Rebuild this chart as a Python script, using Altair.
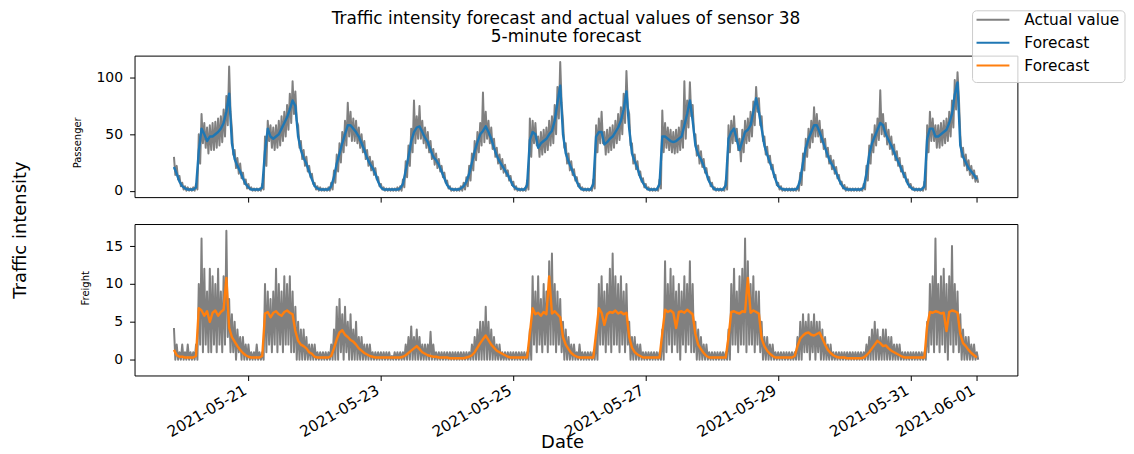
import altair as alt
import pandas as pd

FONT = "DejaVu Sans"

# ---------------- data (hourly, starting 2021-05-19 21:00) ----------------
# Passenger forecast
PAS_FC = (
    [21, 15, 8]
    + [4, 2, 1, 1, 1, 3, 35, 55, 50, 44, 48, 48, 50, 52, 55, 60, 70, 86, 42, 28, 22, 17, 11, 6]      # 05-20
    + [3, 1, 1, 1, 1, 3, 35, 55, 48, 46, 48, 50, 55, 60, 65, 72, 80, 75, 48, 36, 29, 24, 17, 10]     # 05-21
    + [4, 2, 1, 1, 1, 1, 4, 12, 24, 33, 42, 50, 58, 58, 55, 52, 48, 42, 36, 29, 24, 20, 15, 8]       # 05-22
    + [3, 1, 1, 1, 1, 1, 1, 2, 6, 18, 30, 44, 52, 56, 57, 52, 47, 43, 36, 30, 27, 23, 17, 11]        # 05-23
    + [5, 2, 1, 1, 1, 2, 4, 8, 15, 25, 35, 43, 50, 53, 57, 52, 46, 38, 31, 26, 22, 18, 14, 9]        # 05-24
    + [4, 2, 1, 1, 1, 5, 45, 52, 50, 38, 42, 44, 46, 50, 53, 62, 78, 93, 50, 33, 26, 20, 14, 8]      # 05-25
    + [3, 1, 1, 1, 1, 6, 48, 52, 52, 41, 43, 46, 48, 52, 56, 62, 72, 88, 55, 33, 26, 20, 12, 7]      # 05-26
    + [3, 1, 1, 1, 1, 6, 48, 48, 46, 44, 43, 44, 46, 48, 58, 68, 80, 62, 40, 32, 28, 22, 15, 8]      # 05-27
    + [4, 1, 1, 1, 1, 5, 46, 52, 55, 45, 36, 44, 52, 54, 58, 70, 82, 70, 55, 40, 32, 25, 18, 10]     # 05-28
    + [4, 2, 1, 1, 1, 1, 1, 2, 10, 25, 38, 46, 52, 58, 58, 52, 45, 38, 31, 25, 21, 16, 10, 5]        # 05-29
    + [2, 1, 1, 1, 1, 1, 1, 3, 15, 32, 42, 48, 54, 60, 58, 50, 45, 40, 34, 28, 23, 17, 12, 6]        # 05-30
    + [3, 1, 1, 1, 1, 4, 46, 55, 55, 48, 48, 50, 52, 54, 60, 68, 85, 96, 40, 30, 25, 20, 17, 14]     # 05-31
    + [10]                                                                                          # 06-01
)
# Passenger actual: upper reading (on the hour) and lower reading (half past)
PAS_HI = (
    [30, 22, 13]
    + [7, 4, 3, 2, 3, 6, 50, 68, 60, 56, 58, 60, 61, 64, 66, 72, 84, 110, 55, 36, 29, 24, 16, 10]
    + [6, 3, 2, 2, 2, 6, 48, 62, 58, 56, 58, 62, 66, 70, 76, 86, 97, 88, 58, 44, 36, 30, 22, 15]
    + [7, 4, 3, 2, 2, 3, 7, 18, 32, 42, 52, 62, 78, 70, 64, 62, 56, 50, 44, 36, 30, 26, 20, 12]
    + [6, 3, 2, 2, 2, 2, 3, 4, 10, 26, 40, 55, 80, 66, 75, 62, 56, 52, 44, 37, 33, 28, 22, 16]
    + [9, 4, 2, 2, 2, 4, 7, 12, 22, 33, 44, 52, 60, 87, 70, 62, 56, 46, 38, 32, 28, 23, 18, 13]
    + [8, 4, 2, 2, 2, 9, 64, 62, 60, 48, 52, 54, 56, 62, 66, 76, 92, 114, 62, 42, 33, 26, 19, 12]
    + [6, 3, 2, 2, 2, 10, 58, 64, 70, 52, 54, 56, 58, 62, 68, 74, 86, 106, 68, 42, 32, 26, 17, 11]
    + [6, 3, 2, 2, 2, 10, 71, 60, 56, 54, 52, 54, 56, 62, 97, 80, 96, 76, 50, 40, 35, 28, 20, 12]
    + [7, 3, 2, 2, 2, 9, 58, 62, 66, 55, 46, 54, 62, 64, 70, 79, 92, 82, 66, 48, 39, 31, 23, 14]
    + [7, 4, 2, 2, 2, 2, 2, 4, 16, 33, 46, 55, 62, 74, 68, 62, 54, 46, 38, 31, 27, 21, 14, 8]
    + [5, 3, 2, 2, 2, 2, 2, 6, 22, 40, 50, 58, 64, 89, 68, 60, 54, 48, 41, 35, 29, 22, 16, 10]
    + [6, 3, 2, 2, 2, 8, 58, 70, 64, 58, 58, 60, 62, 64, 70, 80, 98, 105, 50, 38, 32, 27, 22, 18]
    + [13]
)
PAS_LO = (
    [14, 10, 4]
    + [1, 0, 0, 0, 0, 1, 24, 42, 38, 33, 36, 36, 38, 40, 43, 48, 58, 70, 32, 20, 15, 11, 6, 2]
    + [1, 0, 0, 0, 0, 1, 22, 44, 38, 36, 38, 40, 44, 48, 54, 60, 68, 62, 38, 28, 22, 17, 12, 6]
    + [1, 0, 0, 0, 0, 0, 1, 7, 17, 25, 34, 40, 48, 44, 44, 42, 38, 34, 28, 22, 18, 14, 10, 4]
    + [1, 0, 0, 0, 0, 0, 0, 0, 3, 12, 22, 34, 42, 46, 46, 42, 38, 34, 28, 23, 20, 17, 12, 7]
    + [2, 0, 0, 0, 0, 0, 1, 4, 9, 18, 27, 34, 40, 43, 46, 42, 37, 30, 24, 19, 16, 13, 9, 5]
    + [1, 0, 0, 0, 0, 1, 30, 42, 40, 30, 32, 34, 36, 40, 42, 50, 64, 78, 38, 24, 18, 14, 9, 4]
    + [1, 0, 0, 0, 0, 2, 34, 42, 42, 32, 34, 36, 38, 42, 45, 50, 60, 74, 40, 24, 19, 14, 8, 3]
    + [1, 0, 0, 0, 0, 2, 34, 38, 36, 34, 33, 34, 36, 38, 46, 56, 66, 50, 31, 24, 21, 16, 10, 4]
    + [1, 0, 0, 0, 0, 1, 34, 42, 44, 36, 26, 34, 42, 44, 48, 58, 70, 58, 44, 32, 25, 19, 12, 5]
    + [1, 0, 0, 0, 0, 0, 0, 0, 5, 18, 30, 38, 43, 48, 48, 43, 37, 30, 24, 19, 15, 11, 6, 2]
    + [0, 0, 0, 0, 0, 0, 0, 1, 9, 24, 34, 40, 45, 50, 48, 41, 37, 32, 27, 22, 17, 12, 8, 3]
    + [1, 0, 0, 0, 0, 1, 34, 44, 44, 38, 38, 40, 42, 44, 48, 56, 72, 82, 30, 22, 18, 14, 11, 8]
    + [7]
)
# Freight forecast
FRT_FC = (
    [1.3, 0.6, 0.4]
    + [0.4, 0.3, 0.3, 0.3, 0.3, 0.5, 6.8, 6.5, 5.8, 6.4, 5.0, 6.2, 6.5, 5.8, 6.3, 6.6, 10.8, 4.2, 3.0, 2.4, 1.8, 1.3, 0.9, 0.6]
    + [0.4, 0.3, 0.3, 0.3, 0.3, 0.5, 6.1, 6.3, 5.6, 6.2, 6.4, 6.0, 5.8, 6.3, 6.5, 6.2, 6.0, 3.8, 2.5, 2.0, 1.8, 1.5, 1.0, 0.8]
    + [0.4, 0.3, 0.3, 0.3, 0.3, 0.3, 0.5, 1.5, 2.7, 3.6, 3.9, 3.3, 3.0, 2.6, 2.4, 2.0, 1.5, 1.2, 0.9, 0.7, 0.5, 0.4, 0.3, 0.3]
    + [0.3, 0.3, 0.3, 0.3, 0.3, 0.3, 0.3, 0.3, 0.4, 0.6, 0.9, 1.2, 1.5, 1.8, 1.4, 1.0, 0.8, 0.6, 0.5, 0.4, 0.4, 0.3, 0.3, 0.3]
    + [0.3, 0.2, 0.2, 0.2, 0.2, 0.2, 0.2, 0.3, 0.4, 0.6, 1.0, 1.6, 2.2, 2.7, 3.2, 2.6, 2.0, 1.6, 1.2, 1.0, 0.8, 0.6, 0.4, 0.3]
    + [0.3, 0.3, 0.3, 0.3, 0.3, 0.3, 3.5, 6.8, 6.0, 6.2, 5.8, 6.3, 6.0, 11.0, 6.1, 6.4, 6.0, 5.6, 3.0, 2.0, 1.4, 0.9, 0.6, 0.4]
    + [0.3, 0.3, 0.3, 0.3, 0.3, 0.3, 3.5, 6.8, 6.2, 4.6, 6.0, 6.3, 6.2, 6.5, 6.1, 6.3, 6.0, 6.2, 3.0, 1.6, 1.0, 0.7, 0.5, 0.3]
    + [0.3, 0.3, 0.3, 0.3, 0.3, 0.3, 3.5, 6.6, 6.3, 6.5, 6.2, 4.2, 6.3, 6.4, 6.2, 6.6, 6.3, 6.0, 3.4, 2.0, 1.4, 0.9, 0.5, 0.3]
    + [0.3, 0.3, 0.3, 0.3, 0.3, 0.3, 3.0, 6.3, 6.4, 6.2, 6.1, 6.4, 6.3, 10.8, 6.2, 6.5, 6.3, 6.1, 2.8, 1.8, 1.2, 0.8, 0.5, 0.3]
    + [0.3, 0.3, 0.3, 0.3, 0.3, 0.3, 0.5, 1.8, 2.8, 3.2, 3.5, 3.6, 3.3, 3.2, 3.4, 3.6, 2.8, 2.0, 1.3, 0.9, 0.6, 0.4, 0.3, 0.3]
    + [0.3, 0.2, 0.2, 0.2, 0.2, 0.2, 0.2, 0.3, 0.6, 1.0, 1.5, 2.0, 2.5, 2.2, 1.8, 1.9, 1.5, 1.2, 1.0, 0.8, 0.6, 0.4, 0.3, 0.3]
    + [0.3, 0.3, 0.3, 0.3, 0.3, 0.3, 4.5, 6.3, 6.2, 6.4, 6.3, 6.1, 6.2, 3.8, 6.3, 6.5, 6.4, 6.2, 3.4, 2.2, 1.8, 1.3, 0.9, 0.6]
    + [0.3]
)
FRT_HI = (
    [4.2, 2, 1]
    + [2, 1, 2, 1, 1, 2, 10, 16, 12, 9, 12, 11, 10, 12, 9, 11, 17, 8, 6, 5, 4, 3, 3, 2]
    + [2, 1, 1, 2, 1, 1, 10, 9, 8, 9, 12, 10, 9, 11, 10, 11, 9, 7, 5, 4, 4, 3, 2, 2]
    + [2, 1, 1, 1, 1, 1, 2, 4, 7, 8, 6, 7, 5, 6, 4, 5, 3, 3, 2, 2, 2, 1, 1, 1]
    + [1, 1, 1, 1, 0.5, 1, 1, 1, 1, 2, 3, 4.4, 3, 4, 3, 2, 2, 2, 3.7, 2, 1, 1, 1, 1]
    + [1, 1, 1, 1, 1, 1, 1, 1, 1, 2, 3, 4, 5, 5, 7, 5, 4, 3, 2, 2, 1, 1, 1, 1]
    + [1, 1, 1, 1, 1, 1, 4, 11, 9, 11, 8, 10, 9, 13, 14, 10, 9, 8, 5, 4, 3, 2, 2, 1]
    + [2, 1, 1, 1, 1, 1, 3, 10, 11, 9, 10, 12, 14, 11, 10, 11, 9, 10, 5, 3, 3, 2, 2, 1]
    + [1, 1, 1, 1, 1, 1, 4, 13, 10, 12, 11, 9, 10, 9, 11, 10, 13, 10, 5, 4, 3, 2, 2, 1]
    + [1, 1, 1, 1, 1, 1, 4, 10, 12, 9, 11, 12, 16, 13, 10, 11, 9, 9, 5, 3, 3, 2, 2, 1]
    + [1, 1, 1, 1, 1, 1, 1, 3, 5, 6, 5, 6, 5, 6, 5, 5, 4, 3, 2, 2, 1, 1, 1, 1]
    + [1, 1, 1, 1, 1, 1, 1, 1, 2, 3, 4, 5, 4, 3, 4, 4, 3, 3, 2, 2, 2, 1, 1, 1]
    + [1, 1, 1, 1, 1, 1, 5, 10, 11, 16, 10, 11, 12, 10, 11, 15, 10, 9, 6, 4, 3, 3, 2, 2]
    + [1]
)
FRT_LO = (
    [0, 0, 0]
    + [0, 0, 0, 0, 0, 0, 2, 1, 2, 1, 1, 2, 1, 2, 1, 2, 3, 1, 1, 0, 1, 0, 0, 0]
    + [0, 0, 0, 0, 0, 0, 1, 2, 1, 2, 1, 2, 1, 2, 2, 1, 1, 0, 0, 0, 0, 0, 0, 0]
    + [0, 0, 0, 0, 0, 0, 0, 0, 0, 1, 0, 1, 0, 0, 0, 0, 0, 0, 0, 0, 0, 0, 0, 0]
    + [0, 0, 0, 0, 0, 0, 0, 0, 0, 0, 0, 0, 0, 0, 0, 0, 0, 0, 0, 0, 0, 0, 0, 0]
    + [0, 0, 0, 0, 0, 0, 0, 0, 0, 0, 0, 0, 0, 0, 0, 0, 0, 0, 0, 0, 0, 0, 0, 0]
    + [0, 0, 0, 0, 0, 0, 0, 2, 1, 2, 1, 2, 1, 2, 2, 1, 2, 1, 0, 0, 0, 0, 0, 0]
    + [0, 0, 0, 0, 0, 0, 0, 2, 2, 1, 2, 1, 2, 2, 1, 2, 1, 2, 0, 0, 0, 0, 0, 0]
    + [0, 0, 0, 0, 0, 0, 0, 1, 2, 1, 2, 1, 0, 2, 1, 2, 1, 1, 0, 0, 0, 0, 0, 0]
    + [0, 0, 0, 0, 0, 0, 0, 2, 2, 1, 2, 2, 1, 2, 2, 1, 2, 1, 0, 0, 0, 0, 0, 0]
    + [0, 0, 0, 0, 0, 0, 0, 0, 0, 1, 1, 0, 1, 0, 1, 0, 0, 0, 0, 0, 0, 0, 0, 0]
    + [0, 0, 0, 0, 0, 0, 0, 0, 0, 0, 0, 0, 0, 0, 0, 0, 0, 0, 0, 0, 0, 0, 0, 0]
    + [0, 0, 0, 0, 0, 0, 1, 2, 1, 2, 1, 2, 1, 0, 2, 1, 2, 1, 0, 0, 0, 0, 0, 0]
    + [0]
)

START = "2021-05-19 21:00"
TICK_DAYS = [(5, 21), (5, 23), (5, 25), (5, 27), (5, 29), (5, 31), (6, 1)]
LEGEND_LABELS = ["Actual value", "Forecast", "Forecast"]
COLORS = ["#808080", "#1f77b4", "#ff7f0e"]
TITLE_LINES = ["Traffic intensity forecast and actual values of sensor 38", "5-minute forecast"]

for arr in (PAS_HI, PAS_LO, FRT_FC, FRT_HI, FRT_LO):
    assert len(arr) == len(PAS_FC), len(arr)

# ---------------- build tables ----------------
t0 = pd.Timestamp(START)
hours = [t0 + pd.Timedelta(hours=i) for i in range(len(PAS_FC))]
half = pd.Timedelta(minutes=30)


def fmt(ts):
    return ts.strftime("%Y-%m-%dT%H:%M:%S")


def actual_table(hi, lo):
    rows = []
    for ts, h, l in zip(hours, hi, lo):
        rows.append({"t": fmt(ts), "v": h})
        rows.append({"t": fmt(ts + half), "v": l})
    return pd.DataFrame(rows)


def forecast_table(vals):
    return pd.DataFrame({"t": [fmt(ts) for ts in hours], "v": vals})


pas_act = actual_table(PAS_HI, PAS_LO)
pas_fc = forecast_table(PAS_FC)
frt_act = actual_table(FRT_HI, FRT_LO)
frt_fc = forecast_table(FRT_FC)

# ---------------- geometry ----------------
W = 886
H_TOP = 142
H_BOT = 152

x_scale = alt.Scale(domain=[alt.DateTime(year=2021, month=5, date=19, hours=6, minutes=43),
                            alt.DateTime(year=2021, month=6, date=1, hours=14, minutes=42)])
tick_vals = [alt.DateTime(year=2021, month=m, date=d) for m, d in TICK_DAYS]

axis_base = dict(grid=False, domain=False, tickSize=5, tickColor="black", tickWidth=1,
                 labelFont=FONT, labelColor="black",
                 titleFont=FONT, titleColor="black", titleFontWeight="normal")

one = pd.DataFrame({"k": [0]})

# ---------------- top panel ----------------
top_x = alt.X("t:T", scale=x_scale, axis=alt.Axis(values=tick_vals, labels=False, title=None, **axis_base))
top_y = alt.Y("v:Q", scale=alt.Scale(domain=[-5.7, 119.7], nice=False, zero=False),
              axis=alt.Axis(values=[0, 50, 100], title="Passenger", titleFontSize=10, titlePadding=14,
                            titleY=87, labelFontSize=14, labelPadding=7, **axis_base))

top_act = alt.Chart(pas_act).mark_line(strokeWidth=2.0, strokeJoin="round", color=COLORS[0]).encode(x=top_x, y=top_y)
top_fc = alt.Chart(pas_fc).mark_line(strokeWidth=2.4, strokeJoin="round", color=COLORS[1]).encode(x=top_x, y=top_y)

extras = []
# figure title (two lines)
for txt, yy in zip(TITLE_LINES, [-37, -19]):
    extras.append(alt.Chart(one).mark_text(font=FONT, fontSize=17, color="black", baseline="middle",
                                           align="center").encode(x=alt.value(433), y=alt.value(yy),
                                                                  text=alt.value(txt)))
# shared y label
extras.append(alt.Chart(one).mark_text(font=FONT, fontSize=18, color="black", angle=270, baseline="middle",
                                       align="center").encode(x=alt.value(-114), y=alt.value(175),
                                                              text=alt.value("Traffic intensity")))
# figure legend (top right)
extras.append(alt.Chart(one).mark_rect(fill="white", fillOpacity=0.8, stroke="#cccccc", strokeWidth=1,
                                       cornerRadius=4).encode(x=alt.value(841), x2=alt.value(994),
                                                              y=alt.value(-45), y2=alt.value(27)))
for lab, col, yy in zip(LEGEND_LABELS, COLORS, [-36, -13, 10]):
    extras.append(alt.Chart(one).mark_rule(color=col, strokeWidth=2).encode(
        x=alt.value(845), x2=alt.value(878), y=alt.value(yy)))
    extras.append(alt.Chart(one).mark_text(font=FONT, fontSize=15.4, color="black", align="left",
                                           baseline="middle").encode(x=alt.value(893), y=alt.value(yy),
                                                                     text=alt.value(lab)))

top = alt.layer(top_act, top_fc, *extras).properties(width=W, height=H_TOP)

# ---------------- bottom panel ----------------
bot_x = alt.X("t:T", scale=x_scale, axis=alt.Axis(values=tick_vals, format="%Y-%m-%d", labelAngle=330,
                                                 labelAlign="right", labelBaseline="top", labelOverlap=False,
                                                 labelFlush=False, labelPadding=2, labelOffset=-7,
                                                 labelFontSize=15.3,
                                                 title="Date", titleFontSize=18,
                                                 titleX=429, titleY=67, titleBaseline="middle", **axis_base))
bot_y = alt.Y("v:Q", scale=alt.Scale(domain=[-2.07, 17.9], nice=False, zero=False),
              axis=alt.Axis(values=[0, 5, 10, 15], title="Freight", titleFontSize=10, titlePadding=14,
                            titleY=64, labelFontSize=14, labelPadding=7, **axis_base))

bot_act = alt.Chart(frt_act).mark_line(strokeWidth=2.0, strokeJoin="round", color=COLORS[0]).encode(x=bot_x, y=bot_y)
bot_fc = alt.Chart(frt_fc).mark_line(strokeWidth=2.4, strokeJoin="round", color=COLORS[2]).encode(x=bot_x, y=bot_y)
bot = alt.layer(bot_act, bot_fc).properties(width=W, height=H_BOT)

chart = alt.vconcat(top, bot, spacing=27, bounds="flush").resolve_scale(y="independent").properties(
    padding={"left": 3, "top": 0, "right": 0, "bottom": 0},
    background="white",
).configure_view(stroke="black", strokeWidth=1)

chart.save("out.html", embed_options={"renderer": "svg", "actions": False})
